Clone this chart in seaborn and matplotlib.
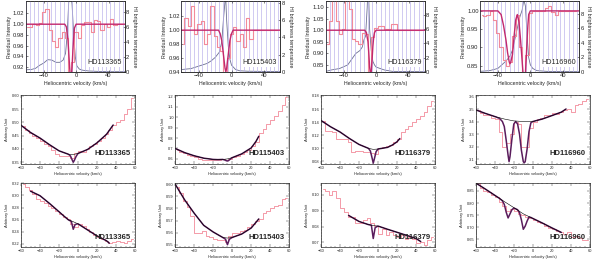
import numpy as np
import pandas as pd
import matplotlib
matplotlib.use('Agg')
import matplotlib.pyplot as plt
import seaborn as sns

stars = ['HD113365', 'HD115403', 'HD116379', 'HD116960']

# ---- top row: residual intensity, fit and HI brightness temperature ----
top_vel = list(range(-60, 60, 4))   # channel centres (km/s)
top_resid = {
    'HD113365': [0.994, 0.994, 1.000, 0.998, 1.002, 1.022, 1.028, 0.990, 0.968, 0.958, 0.975, 0.985, 0.975, 0.905, 0.930,
                 0.985, 0.975, 0.998, 1.005, 1.004, 0.985, 1.008, 1.006, 0.990, 1.000, 0.995, 1.010, 0.998, 1.000, 1.000],
    'HD115403': [0.980, 1.018, 1.006, 1.035, 0.994, 1.009, 1.013, 0.980, 0.994, 1.035, 0.992, 0.975, 0.970, 0.940, 0.960,
                 0.995, 1.004, 0.985, 0.995, 0.975, 1.018, 0.987, 1.000, 1.000, 1.000, 1.000, 1.000, 1.000, 1.000, 1.000],
    'HD116379': [0.940, 1.040, 1.130, 1.040, 0.983, 1.005, 1.130, 1.090, 0.960, 0.955, 0.940, 0.990, 0.985, 0.820, 0.970,
                 1.010, 1.020, 1.020, 1.005, 1.005, 1.025, 1.025, 1.000, 1.000, 1.000, 1.000, 1.000, 1.000, 1.000, 1.000],
    'HD116960': [0.990, 0.986, 0.990, 1.000, 0.975, 0.940, 0.900, 0.865, 0.850, 0.860, 0.930, 0.990, 0.900, 0.820, 0.880,
                 0.995, 1.000, 1.000, 1.000, 1.000, 1.007, 1.014, 0.997, 0.990, 1.000, 1.000, 1.000, 1.000, 1.000, 1.000],
}
top_fit_vel = {
    'HD113365': [-62, -14, -12, -10, -9, -8, -7, -6, -5, -4, -3, -2, 0, 60],
    'HD115403': [-62, -16, -14, -12, -10, -8, -7, -6, -4, -2, 0, 2, 62],
    'HD116379': [-62, -14, -12, -10, -9, -8, -7, -6, -5, -4, -3, -2, 0, 60],
    'HD116960': [-62, -40, -36, -33, -30, -28, -26, -25, -24, -22, -20, -18, -16, -14, -12, -10, -9, -8, -7, -6, -5, -4,
                 -3, -2, 0, 62],
}
top_fit = {
    'HD113365': [1.0, 1.0, 0.995, 0.97, 0.945, 0.92, 0.90, 0.90, 0.92, 0.95, 0.975, 0.993, 1.0, 1.0],
    'HD115403': [1.0, 1.0, 0.995, 0.985, 0.965, 0.945, 0.94, 0.945, 0.965, 0.985, 0.995, 1.0, 1.0],
    'HD116379': [1.0, 1.0, 0.99, 0.95, 0.90, 0.84, 0.81, 0.82, 0.87, 0.93, 0.97, 0.99, 1.0, 1.0],
    'HD116960': [1.0, 1.0, 0.99, 0.96, 0.92, 0.885, 0.86, 0.855, 0.86, 0.88, 0.93, 0.975, 0.99, 0.97, 0.92, 0.86, 0.83,
                 0.81, 0.81, 0.83, 0.87, 0.92, 0.96, 0.99, 1.0, 1.0],
}
hi_vel = {
    'HD113365': [-62, -55, -50, -45, -40, -35, -30, -25, -20, -16, -13, -11, -9, -7, -5, -3, -1, 1, 4, 8, 15, 25, 40, 60],
    'HD115403': [-61, -50, -40, -30, -25, -20, -15, -12, -10, -8, -7, -6, -4, -2, 0, 5, 10, 20, 61],
    'HD116379': [-62, -55, -45, -35, -30, -25, -20, -17, -15, -13, -11, -10, -9, -8, -6, -4, -2, 0, 5, 10, 20, 60],
    'HD116960': [-62, -50, -40, -35, -30, -25, -22, -20, -17, -15, -13, -10, -8, -6, -4, -2, 0, 3, 8, 20, 62],
}
hi_temp = {
    'HD113365': [0.3, 0.35, 0.5, 0.9, 1.2, 1.65, 1.6, 1.3, 1.3, 1.6, 2.5, 5.0, 9.5, 11.0, 9.0, 5.0, 2.0, 0.8, 0.4, 0.25,
                 0.15, 0.1, 0.05, 0.05],
    'HD115403': [0.3, 0.4, 0.7, 1.0, 1.3, 1.7, 2.3, 3.5, 6.0, 8.2, 8.3, 6.0, 3.0, 1.5, 0.8, 0.3, 0.15, 0.1, 0.05],
    'HD116379': [0.1, 0.3, 0.5, 1.0, 1.8, 2.6, 3.0, 3.5, 4.5, 5.0, 9.0, 12.0, 10.0, 6.0, 3.0, 1.5, 1.0, 0.7, 0.5, 0.3,
                 0.1, 0.05],
    'HD116960': [0.1, 0.2, 0.5, 1.0, 1.5, 2.2, 3.0, 4.0, 5.5, 6.5, 7.5, 8.5, 9.9, 9.0, 5.0, 2.0, 1.0, 0.5, 0.2, 0.1, 0.05],
}
top_ylim = {'HD113365': (0.911, 1.043), 'HD115403': (0.9395, 1.042),
            'HD116379': (0.819, 1.126), 'HD116960': (0.832, 1.027)}
top_ylim2 = {'HD113365': 9.45, 'HD115403': 8.2, 'HD116379': 9.9, 'HD116960': 9.7}
top_yticks = {'HD113365': [0.92, 0.94, 0.96, 0.98, 1.00, 1.02], 'HD115403': [0.94, 0.96, 0.98, 1.00, 1.02],
              'HD116379': [0.85, 0.90, 0.95, 1.00, 1.05, 1.10], 'HD116960': [0.85, 0.90, 0.95, 1.00]}

# ---- rows 2 and 3: spectra around the two lines ----
bin_vel = list(range(-58, 60, 4))
row_spec = [
    {'HD113365': [0.485, 0.47, 0.46, 0.45, 0.44, 0.43, 0.42, 0.41, 0.395, 0.38, 0.372, 0.372, 0.375, 0.365, 0.385,
                  0.392, 0.39, 0.40, 0.41, 0.42, 0.43, 0.44, 0.455, 0.47, 0.49, 0.50, 0.51, 0.53, 0.55, 0.59],
     'HD115403': [0.69, 0.67, 0.655, 0.64, 0.63, 0.615, 0.60, 0.59, 0.59, 0.59, 0.585, 0.59, 0.595, 0.585, 0.60,
                  0.615, 0.63, 0.645, 0.665, 0.69, 0.72, 0.76, 0.85, 0.89, 0.93, 0.97, 1.01, 1.06, 1.12, 1.19],
     'HD116379': [0.142, 0.127, 0.127, 0.125, 0.115, 0.115, 0.115, 0.109, 0.095, 0.096, 0.096, 0.095, 0.095, 0.093,
                  0.092, 0.100, 0.102, 0.104, 0.105, 0.110, 0.114, 0.125, 0.130, 0.134, 0.140, 0.145, 0.150, 0.155,
                  0.165, 0.172],
     'HD116960': [3.49, 3.47, 3.45, 3.45, 3.43, 3.42, 3.32, 3.20, 3.23, 3.30, 3.40, 3.38, 3.20, 3.20, 3.35, 3.40,
                  3.42, 3.43, 3.45, 3.45, 3.47, 3.46, 3.48, 3.49, 3.50, 3.48, 3.53, 3.54, 3.56, 3.58]},
    {'HD113365': [0.319, 0.314, 0.309, 0.302, 0.294, 0.290, 0.288, 0.283, 0.279, 0.274, 0.270, 0.265, 0.261, 0.253,
                  0.248, 0.253, 0.249, 0.244, 0.240, 0.235, 0.231, 0.228, 0.225, 0.2215, 0.2225, 0.225, 0.2225,
                  0.2215, 0.225, 0.228],
     'HD115403': [0.5975, 0.5925, 0.586, 0.581, 0.574, 0.560, 0.560, 0.561, 0.5575, 0.556, 0.555, 0.554, 0.554,
                  0.5525, 0.5575, 0.560, 0.560, 0.561, 0.5625, 0.565, 0.5675, 0.570, 0.571, 0.576, 0.5775, 0.580,
                  0.582, 0.583, 0.5875, 0.589],
     'HD116379': [0.1035, 0.1025, 0.0996, 0.1025, 0.0977, 0.0919, 0.089, 0.0861, 0.0861, 0.0822, 0.0822, 0.0841,
                  0.0851, 0.0822, 0.0803, 0.0754, 0.0783, 0.0745, 0.0764, 0.0745, 0.0735, 0.0745, 0.0725, 0.0735,
                  0.0725, 0.0696, 0.0706, 0.0687, 0.0716, 0.0735],
     'HD116960': [0.881, 0.864, 0.851, 0.845, 0.832, 0.826, 0.806, 0.787, 0.768, 0.774, 0.768, 0.755, 0.749, 0.742,
                  0.736, 0.729, 0.723, 0.717, 0.704, 0.697, 0.694, 0.685, 0.678, 0.672, 0.678, 0.659, 0.665, 0.653,
                  0.646, 0.646]},
]
row_fit_vel = [
    {'HD113365': [-60, -50, -40, -30, -20, -10, -8, -6, -5, -4, -2, 0, 10, 20, 30, 37],
     'HD115403': [-60, -50, -40, -30, -20, -15, -10, -8, -6, -5, -4, -2, 0, 10, 20, 25, 28],
     'HD116379': [-60, -50, -40, -30, -20, -10, -8, -6, -5, -4, -2, 0, 10, 15, 20, 23],
     'HD116960': [-60, -50, -40, -35, -32, -30, -28, -26, -25, -24, -22, -20, -18, -16, -14, -12, -10, -9, -8, -6,
                  -4, -2, 0, 10, 20, 30, 35]},
    {'HD113365': [-50, -40, -30, -20, -15, -10, -7, -5, -3, 0, 10, 20, 30, 33],
     'HD115403': [-60, -50, -40, -30, -20, -10, -7, -5, -3, 0, 10, 20, 28],
     'HD116379': [-31, -20, -10, -7, -5, -3, 0, 10, 20, 30, 40, 45],
     'HD116960': [-60, -50, -40, -35, -32, -30, -28, -26, -24, -22, -20, -18, -16, -14, -12, -10, -8, -6, -4, -2, 0,
                  10, 20, 30]},
]
row_fit = [
    {'HD113365': [0.489, 0.462, 0.441, 0.416, 0.393, 0.380, 0.374, 0.358, 0.350, 0.356, 0.372, 0.383, 0.398, 0.423,
                  0.455, 0.49],
     'HD115403': [0.700, 0.660, 0.630, 0.607, 0.595, 0.593, 0.595, 0.590, 0.582, 0.580, 0.583, 0.598, 0.612, 0.648,
                  0.705, 0.767, 0.817],
     'HD116379': [0.1425, 0.133, 0.125, 0.115, 0.106, 0.100, 0.096, 0.084, 0.0775, 0.083, 0.095, 0.099, 0.1015,
                  0.105, 0.110, 0.115],
     'HD116960': [3.493, 3.465, 3.44, 3.425, 3.40, 3.36, 3.25, 3.13, 3.08, 3.12, 3.26, 3.38, 3.40, 3.38, 3.30, 3.17,
                  3.08, 3.07, 3.08, 3.18, 3.32, 3.39, 3.40, 3.42, 3.447, 3.475, 3.50]},
    {'HD113365': [0.307, 0.2995, 0.2867, 0.273, 0.266, 0.2595, 0.257, 0.244, 0.252, 0.253, 0.243, 0.233, 0.225,
                  0.221],
     'HD115403': [0.600, 0.587, 0.576, 0.566, 0.5605, 0.556, 0.5545, 0.550, 0.5545, 0.556, 0.5588, 0.5638, 0.5713],
     'HD116379': [0.0870, 0.0832, 0.0812, 0.0809, 0.0725, 0.0793, 0.0803, 0.0783, 0.0764, 0.0745, 0.0725, 0.0706],
     'HD116960': [0.883, 0.858, 0.832, 0.819, 0.809, 0.794, 0.762, 0.738, 0.755, 0.772, 0.779, 0.776, 0.772, 0.760,
                  0.730, 0.691, 0.704, 0.725, 0.742, 0.740, 0.736, 0.717, 0.697, 0.678]},
]
row_cont_vel = [
    {'HD113365': [-60, -50, -40, -30, -20, -10, -5, 0, 10, 20, 30, 37],
     'HD115403': [-60, -50, -40, -30, -20, -15, -10, -5, 0, 10, 20, 25, 28],
     'HD116379': [-60, -50, -40, -30, -20, -10, -5, 0, 10, 15, 20, 23],
     'HD116960': [-60, -50, -40, -30, -20, -10, 0, 10, 20, 30, 35]},
    {'HD113365': [-50, -40, -30, -20, -10, -5, 0, 10, 20, 30, 33],
     'HD115403': [-60, -50, -40, -30, -20, -10, -5, 0, 10, 20, 28],
     'HD116379': [-31, -20, -10, -5, 0, 10, 20, 30, 40, 45],
     'HD116960': [-60, -50, -40, -30, -20, -10, 0, 10, 20, 30]},
]
row_cont = [
    {'HD113365': [0.489, 0.462, 0.441, 0.416, 0.393, 0.380, 0.379, 0.383, 0.398, 0.423, 0.455, 0.49],
     'HD115403': [0.700, 0.660, 0.630, 0.607, 0.595, 0.593, 0.595, 0.600, 0.612, 0.648, 0.705, 0.767, 0.817],
     'HD116379': [0.1425, 0.133, 0.125, 0.115, 0.106, 0.100, 0.0985, 0.099, 0.1015, 0.105, 0.110, 0.115],
     'HD116960': [3.493, 3.465, 3.44, 3.42, 3.405, 3.40, 3.40, 3.42, 3.447, 3.475, 3.50]},
    {'HD113365': [0.307, 0.2995, 0.2867, 0.273, 0.2595, 0.2565, 0.253, 0.243, 0.233, 0.225, 0.221],
     'HD115403': [0.600, 0.587, 0.576, 0.566, 0.5605, 0.556, 0.5555, 0.556, 0.5588, 0.5638, 0.5713],
     'HD116379': [0.0870, 0.0832, 0.0812, 0.0806, 0.0803, 0.0783, 0.0764, 0.0745, 0.0725, 0.0706],
     'HD116960': [0.883, 0.858, 0.832, 0.806, 0.781, 0.755, 0.736, 0.717, 0.697, 0.678]},
]
row_ylim = [
    {'HD113365': (0.343, 0.602), 'HD115403': (0.55, 1.21), 'HD116379': (0.076, 0.181), 'HD116960': (3.06, 3.61)},
    {'HD113365': (0.2145, 0.3205), 'HD115403': (0.548, 0.601), 'HD116379': (0.0671, 0.1073),
     'HD116960': (0.617, 0.883)},
]
row_yticks = [
    {'HD113365': [0.35, 0.40, 0.45, 0.50, 0.55, 0.60], 'HD115403': [0.6, 0.7, 0.8, 0.9, 1.0, 1.1, 1.2],
     'HD116379': [0.08, 0.10, 0.12, 0.14, 0.16, 0.18], 'HD116960': [3.1, 3.2, 3.3, 3.4, 3.5, 3.6]},
    {'HD113365': [0.22, 0.24, 0.26, 0.28, 0.30, 0.32], 'HD115403': [0.55, 0.56, 0.57, 0.58, 0.59, 0.60],
     'HD116379': [0.07, 0.08, 0.09, 0.10], 'HD116960': [0.65, 0.70, 0.75, 0.80, 0.85]},
]

sns.set_theme(style='ticks')
plt.rcParams['font.family'] = ['Liberation Sans', 'DejaVu Sans']
plt.rcParams['axes.linewidth'] = 0.5

fig = plt.figure(figsize=(6.0, 2.66), dpi=100)

pink = '#f28a9a'
magenta = '#c2286e'
fitc = '#5a1c5c'

top_left = [0.043, 0.302, 0.543, 0.800]
mid_left = [0.035, 0.292, 0.535, 0.793]

for i, s in enumerate(stars):
    # top row
    ax = fig.add_axes([top_left[i], 0.729, 0.165, 0.267])
    ax2 = ax.twinx()
    lo, hi = top_ylim[s]
    for v in np.arange(-62, 62, 5.2):
        ax.axvline(v, color='#bdb5ec', lw=0.5, zorder=0)
    sns.lineplot(x=hi_vel[s], y=hi_temp[s], ax=ax2, color='#6c7092', lw=0.6, sort=False, estimator=None)
    sns.lineplot(x=top_vel, y=top_resid[s], ax=ax, color=pink, lw=0.8, drawstyle='steps-mid',
                 sort=False, estimator=None)
    sns.lineplot(x=top_fit_vel[s], y=top_fit[s], ax=ax, color=magenta, lw=1.0, sort=False, estimator=None)
    ax.set_xlim(-62, 60)
    ax.set_ylim(lo, hi)
    ax2.set_ylim(0, top_ylim2[s])
    ax.set_xticks([-40, 0, 40])
    ax.set_yticks(top_yticks[s])
    ax.set_yticklabels(['%.2f' % t for t in top_yticks[s]])
    ax2.set_yticks([0, 2, 4, 6, 8])
    ax.tick_params(labelsize=4.2, length=1.5, width=0.4, pad=1, direction='in', top=True)
    ax2.tick_params(labelsize=4.2, length=1.5, width=0.4, pad=1, direction='in')
    ax.set_xlabel('Heliocentric velocity (km/s)', fontsize=3.8, labelpad=1.5)
    ax.set_ylabel('Residual Intensity', fontsize=3.8, labelpad=1)
    ax2.set_ylabel('HI brightness temperature', fontsize=3.8, labelpad=2, rotation=270, va='bottom')
    ax.text(0.97, 0.08, s, transform=ax.transAxes, ha='right', va='bottom', fontsize=5.2,
            bbox=dict(facecolor='white', edgecolor='none', pad=0.3))
    ax.set_zorder(ax2.get_zorder() + 1)
    ax.patch.set_visible(False)

    # rows 2 and 3
    for r, bottom, height in [(0, 0.383, 0.259), (1, 0.071, 0.241)]:
        ax = fig.add_axes([mid_left[i], bottom, 0.19, height])
        sns.lineplot(x=bin_vel, y=row_spec[r][s], ax=ax, color=pink, lw=0.6, drawstyle='steps-mid',
                     sort=False, estimator=None)
        sns.lineplot(x=row_fit_vel[r][s], y=row_fit[r][s], ax=ax, color=fitc, lw=1.1, sort=False,
                     estimator=None)
        sns.lineplot(x=row_cont_vel[r][s], y=row_cont[r][s], ax=ax, color='black', lw=0.4, sort=False,
                     estimator=None)
        ax.set_xlim(-60, 60)
        ax.set_ylim(*row_ylim[r][s])
        ax.set_xticks([-60, -40, -20, 0, 20, 40, 60])
        ax.set_yticks(row_yticks[r][s])
        ax.minorticks_on()
        ax.tick_params(which='both', labelsize=2.9, width=0.3, pad=1, direction='in',
                       top=True, right=True)
        ax.tick_params(which='major', length=2)
        ax.tick_params(which='minor', length=1)
        ax.set_xlabel('Heliocentric velocity (km/s)', fontsize=2.9, labelpad=1.5)
        ax.set_ylabel('Arbitrary Unit', fontsize=2.9, labelpad=2)
        ax.text(0.96, 0.1, s, transform=ax.transAxes, ha='right', va='bottom', fontsize=5.5,
                fontweight='bold')

fig.savefig('out.png', dpi=100)
